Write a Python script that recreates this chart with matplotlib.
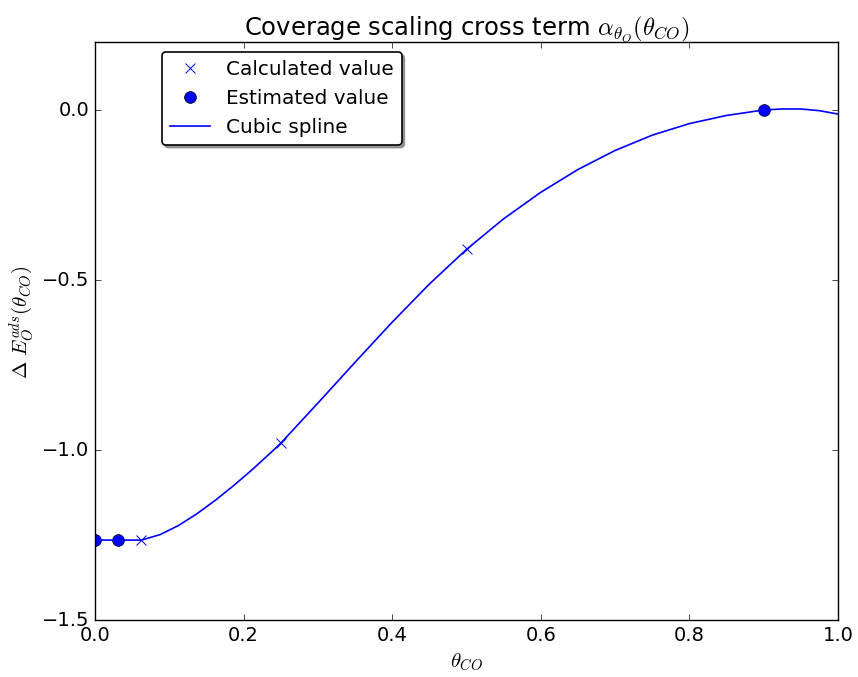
import matplotlib
matplotlib.use('Agg')
import matplotlib.pyplot as plt

# computed coverage points
calc_x = [0.0625, 0.25, 0.5]
calc_y = [-1.265, -0.98, -0.41]

# estimated coverage points
est_x = [0.0, 0.03125, 0.9]
est_y = [-1.265, -1.265, 0.0]

# cubic spline curve through all points
spline_x = [0.0, 0.03125, 0.0625, 0.0875, 0.1125, 0.1375, 0.1625, 0.1875, 0.2125, 0.2375,
            0.25, 0.30, 0.35, 0.40, 0.45, 0.50, 0.55, 0.60, 0.65, 0.70, 0.75,
            0.80, 0.85, 0.90, 0.925, 0.95, 0.975, 1.0]
spline_y = [-1.265, -1.265, -1.265, -1.249, -1.222, -1.187, -1.147, -1.103, -1.056, -1.006,
            -0.98, -0.862, -0.742, -0.624, -0.512, -0.41, -0.32, -0.242, -0.175, -0.119, -0.074,
            -0.040, -0.016, 0.0, 0.003, 0.003, -0.002, -0.012]

plt.style.use('classic')
plt.rcParams['font.size'] = 14

fig = plt.figure(figsize=(8.58, 6.77), dpi=100, facecolor='white')
ax = fig.add_axes([95/858, 57/677, 743/858, 578/677])

ax.plot(calc_x, calc_y, 'x', color='blue', markersize=7.5, markeredgewidth=0.7,
        label='Calculated value')
ax.plot(est_x, est_y, 'o', color='blue', markersize=8.5, markeredgecolor='black',
        markeredgewidth=0.5, label='Estimated value')
ax.plot(spline_x, spline_y, '-', color='blue', linewidth=1.2, label='Cubic spline')

ax.set_xlim(0.0, 1.0)
ax.set_ylim(-1.5, 0.2)
ax.set_xticks([0.0, 0.2, 0.4, 0.6, 0.8, 1.0])
ax.set_yticks([-1.5, -1.0, -0.5, 0.0])

ax.set_title(r'Coverage scaling cross term $\alpha_{\theta_O}(\theta_{CO})$', fontsize=17.5)
ax.set_xlabel(r'$\theta_{CO}$', fontsize=15)
ax.set_ylabel(r'$\Delta\ E_O^{ads}(\theta_{CO})$', fontsize=15)
ax.yaxis.set_label_coords(-0.08, 0.515)

leg = ax.legend(loc='upper left', bbox_to_anchor=(0.09, 0.983), borderaxespad=0,
                numpoints=1, fancybox=True, shadow=True, fontsize=14.4)
leg.get_frame().set_linewidth(1.2)

fig.savefig('out.png', dpi=100, facecolor='white')
